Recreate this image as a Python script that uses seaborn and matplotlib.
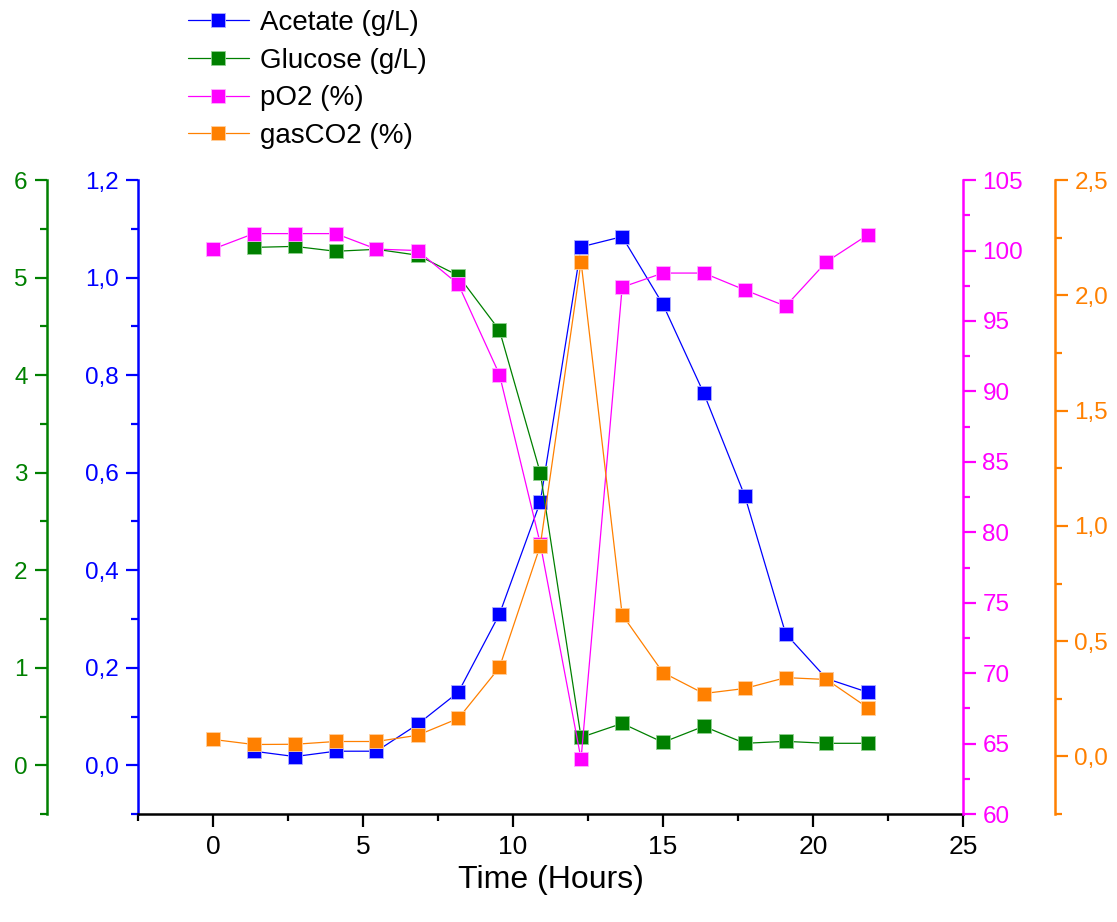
import numpy as np
import matplotlib
matplotlib.use("Agg")
import matplotlib.pyplot as plt
from matplotlib.ticker import MultipleLocator, FuncFormatter
import seaborn as sns

# time points (hours); acetate/glucose start at the second sample
time = [0, 1.36, 2.73, 4.09, 5.45, 6.82, 8.18, 9.55, 10.91, 12.27,
        13.64, 15.0, 16.36, 17.73, 19.09, 20.45, 21.82]
acetate = [0.029, 0.018, 0.029, 0.029, 0.084, 0.150, 0.31, 0.54, 1.063,
           1.084, 0.945, 0.763, 0.552, 0.27, 0.178, 0.15]
glucose = [5.31, 5.32, 5.27, 5.29, 5.23, 5.02, 4.46, 3.0, 0.287,
           0.43, 0.236, 0.40, 0.226, 0.246, 0.226, 0.226]
po2 = [100.1, 101.2, 101.2, 101.2, 100.1, 100.0, 97.6, 91.2, 79.2, 63.9,
       97.4, 98.4, 98.4, 97.2, 96.05, 99.2, 101.1]
co2 = [0.074, 0.052, 0.053, 0.065, 0.065, 0.092, 0.165, 0.386, 0.914,
       2.146, 0.615, 0.364, 0.273, 0.295, 0.342, 0.334, 0.212]

BLUE, GREEN, PINK, ORANGE = "#0000FF", "#008000", "#FF00FF", "#FF8000"

sns.set_style("white")
plt.rcParams["font.family"] = ["Liberation Sans", "DejaVu Sans"]
plt.rcParams["text.color"] = "black"
plt.rcParams["axes.labelcolor"] = "black"
plt.rcParams["xtick.color"] = "black"

fig = plt.figure(figsize=(11.17, 9.22), dpi=100)
ax = fig.add_axes([0.1235, 0.117, 0.7386, 0.6877])
ax_g = ax.twinx()
ax_p = ax.twinx()
ax_o = ax.twinx()


def comma(dec):
    return FuncFormatter(lambda v, p: f"{v:.{dec}f}".replace(".", ","))


def draw(a, x, y, color, edge, label):
    sns.lineplot(x=x, y=y, ax=a, color=color, linewidth=0.9, marker="s",
                 markersize=10.5, markeredgecolor=edge, markeredgewidth=0.6,
                 label=label, legend=False)


draw(ax, time[1:], acetate, BLUE, "#b0b0ff", "Acetate (g/L)")
draw(ax_g, time[1:], glucose, GREEN, "#90d090", "Glucose (g/L)")
draw(ax_p, time, po2, PINK, "#ffb0ff", "pO2 (%)")
draw(ax_o, time, co2, ORANGE, "#ffd0a0", "gasCO2 (%)")

for a in (ax, ax_g, ax_p, ax_o):
    for s in a.spines.values():
        s.set_visible(False)
    a.set_ylabel("")
    a.set_xlabel("")

# x axis
ax.set_xlim(-2.5, 25)
ax.spines["bottom"].set_visible(True)
ax.spines["bottom"].set_color("black")
ax.spines["bottom"].set_linewidth(1.8)
ax.set_xticks([0, 5, 10, 15, 20, 25], labels=["0", "5", "10", "15", "20", "25"],
              fontsize=19, color="black")
ax.xaxis.set_minor_locator(MultipleLocator(2.5))
ax.tick_params(axis="x", which="major", direction="out", length=9, width=1.6,
               color="black", labelcolor="black", pad=6, bottom=True)
ax.tick_params(axis="x", which="minor", direction="out", length=5, width=1.6,
               color="black", bottom=True)
ax.set_xlabel("Time (Hours)", fontsize=23, labelpad=4, color="black")


def style_y(a, side, color, lo, hi, major, minor, fmt, offset=0):
    sp = a.spines[side]
    sp.set_visible(True)
    sp.set_color(color)
    sp.set_linewidth(1.8)
    if offset:
        sp.set_position(("outward", offset))
    a.set_ylim(lo, hi)
    a.yaxis.set_major_locator(MultipleLocator(major))
    a.yaxis.set_minor_locator(MultipleLocator(minor))
    a.yaxis.set_major_formatter(fmt)
    a.yaxis.set_ticks_position(side)
    a.yaxis.set_label_position(side)
    a.tick_params(axis="y", which="major", direction="out", length=9, width=1.6,
                  color=color, labelcolor=color, labelsize=17.5, pad=5)
    a.tick_params(axis="y", which="minor", direction="out", length=5, width=1.6,
                  color=color)


# outward offsets are in points (91 px / 92 px at 100 dpi)
style_y(ax, "left", BLUE, -0.1, 1.2, 0.2, 0.1, comma(1))
style_y(ax_g, "left", GREEN, -0.5, 6, 1, 0.5, comma(0), offset=65.5)
style_y(ax_p, "right", PINK, 60, 105, 5, 2.5, comma(0))
style_y(ax_o, "right", ORANGE, -0.25, 2.5, 0.5, 0.25, comma(1), offset=66.2)

handles, labels = [], []
for a in (ax, ax_g, ax_p, ax_o):
    h, l = a.get_legend_handles_labels()
    handles += h
    labels += l
leg = fig.legend(handles, labels, loc="upper left", bbox_to_anchor=(0.168, 0.989),
                 frameon=False, fontsize=20, handlelength=2.2, handletextpad=0.4,
                 labelspacing=0.42, borderpad=0, borderaxespad=0, numpoints=1)
for t in leg.get_texts():
    t.set_color("black")

fig.savefig("out.png", dpi=100)
